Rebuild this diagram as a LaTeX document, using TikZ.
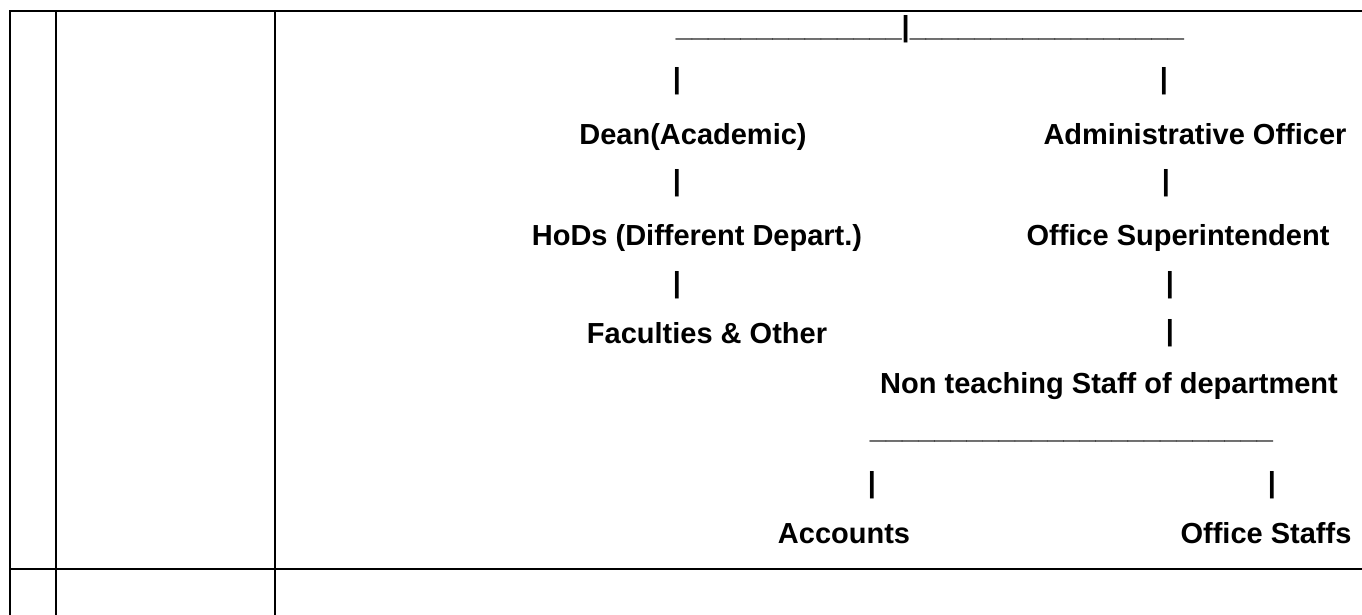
\documentclass[tikz,border=0pt]{standalone}
\usepackage{fontspec}
\setmainfont{Liberation Sans}
\newcommand\unds[1]{\foreach \k in {1,...,#1}{\textunderscore}}
\begin{document}
\begin{tikzpicture}[x=1pt,y=-1pt,
  lbl/.style={font=\fontsize{29}{34}\selectfont\bfseries, inner sep=0pt, anchor=base},
  tbl/.style={line width=2pt, line cap=rect}]
\useasboundingbox (0,0) rectangle (1362,615);
% table rules
\coordinate (c1t) at (10,11);
\coordinate (c1b) at (10,615);
\coordinate (c2t) at (56,11);
\coordinate (c2b) at (56,615);
\coordinate (c3t) at (275,11);
\coordinate (c3b) at (275,615);
\coordinate (rt) at (1362,11);
\coordinate (hl) at (10,569);
\coordinate (hr) at (1362,569);
\draw[tbl] (c1b) -- (c1t) -- (rt);
\draw[tbl] (c2t) -- (c2b);
\draw[tbl] (c3t) -- (c3b);
\draw[tbl] (hl) -- (hr);
% chart text
\node[lbl] (top) at (930,37) {\unds{14}|\unds{17}};
\node[lbl] (p1l) at (677,89) {|};
\node[lbl] (p1r) at (1164,89) {|};
\node[lbl] (dean) at (693,145) {Dean(Academic)};
\node[lbl] (admin) at (1195,145) {Administrative Officer};
\node[lbl] (p3l) at (677,190) {|};
\node[lbl] (p3r) at (1166,190) {|};
\node[lbl] (hods) at (697,245) {HoDs (Different Depart.)};
\node[lbl] (osup) at (1178,245) {Office Superintendent};
\node[lbl] (p5l) at (677,292) {|};
\node[lbl] (p5r) at (1170,292) {|};
\node[lbl] (fac) at (707,343) {Faculties \& Other};
\node[lbl] (p6r) at (1170,340) {|};
\node[lbl] (nont) at (1109,393) {Non teaching Staff of department};
\node[lbl] (ul2) at (1071.5,438.5) {\unds{25}};
\node[lbl] (p9l) at (872,492) {|};
\node[lbl] (p9r) at (1272,492) {|};
\node[lbl] (acc) at (844,543) {Accounts};
\node[lbl] (ostaff) at (1266,543) {Office Staffs};
\end{tikzpicture}
\end{document}
